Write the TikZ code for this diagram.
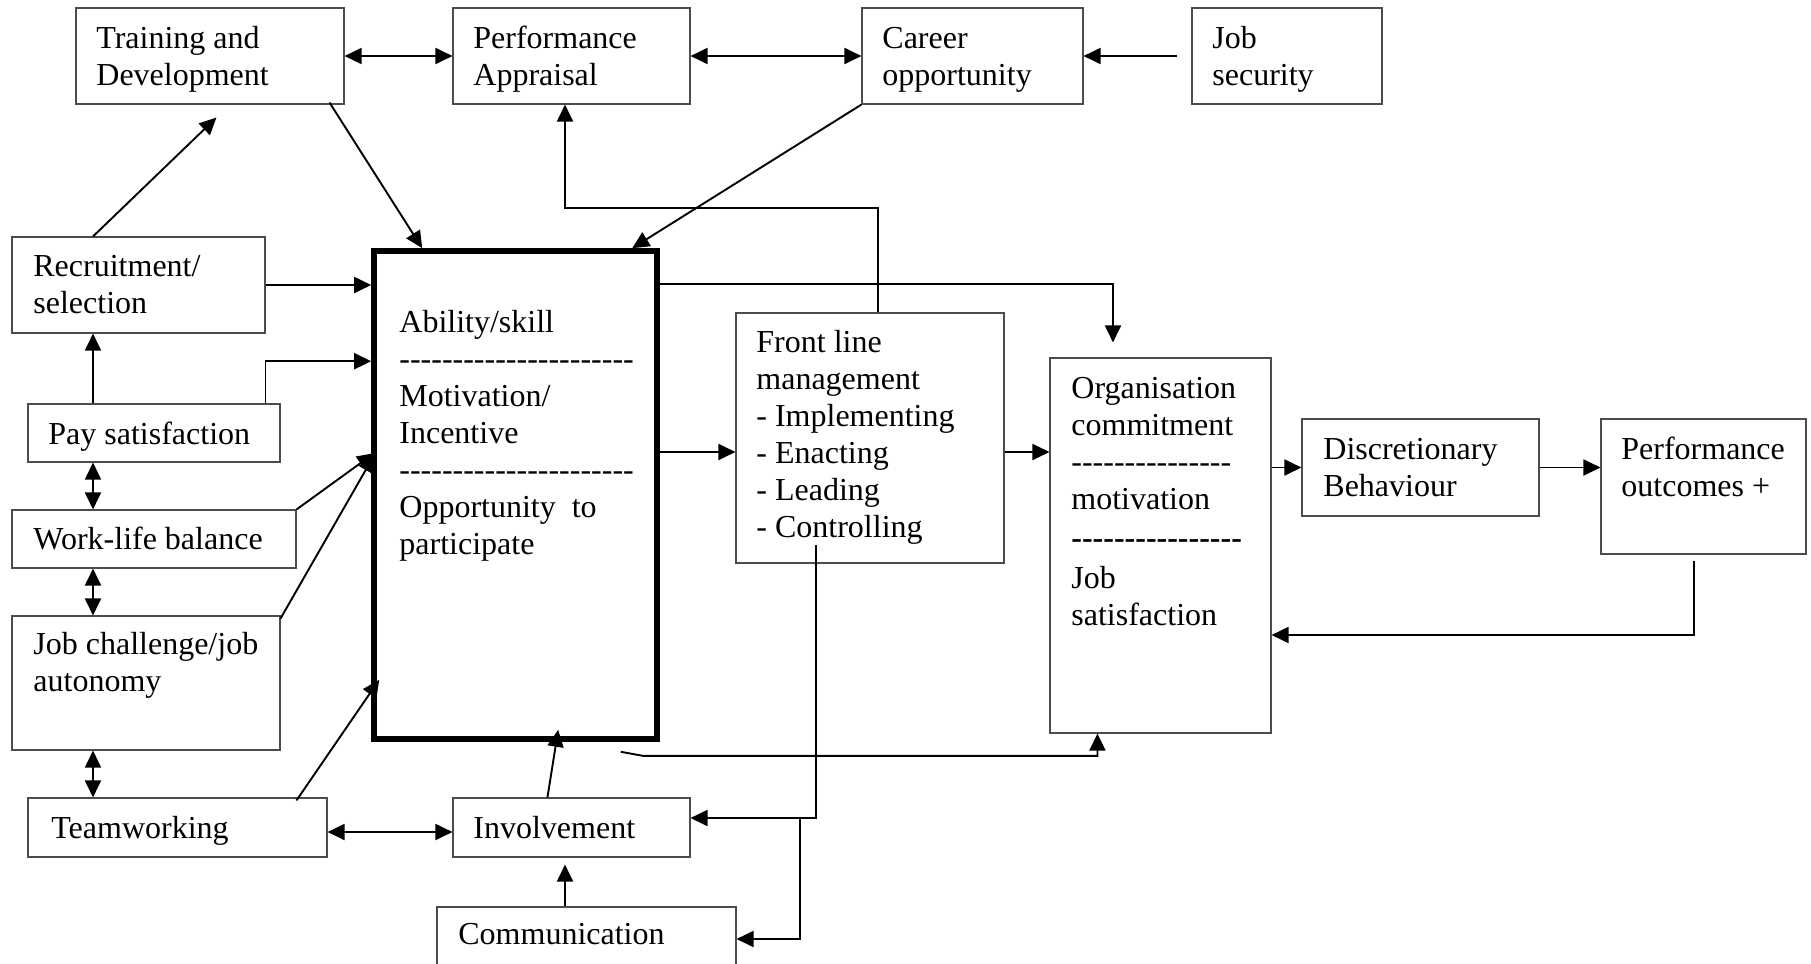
\documentclass[tikz,border=0pt]{standalone}
\usepackage{fontspec}
\setmainfont{Liberation Serif}[Ligatures=TeXOff]
\usetikzlibrary{arrows.meta,calc}
\begin{document}
\begin{tikzpicture}[x=0.5pt,y=-0.5pt,
  box/.style={draw=black!70, line width=0.55pt, inner sep=0pt, rectangle, anchor=center},
  mainbox/.style={draw=black, line width=2.8pt, inner sep=0pt, rectangle, anchor=center},
  txt/.style={anchor=north west, inner sep=0pt, align=left, font=\fontsize{16}{18.5}\selectfont},
  con/.style={line width=0.95pt, -{Triangle[length=8.5pt,width=8pt]}},
  dcon/.style={line width=0.95pt, {Triangle[length=8.5pt,width=8pt]}-{Triangle[length=8.5pt,width=8pt]}},
]
\useasboundingbox[fill=white] (0,0) rectangle (1811,964);

% boxes
\node[box, minimum width=134pt, minimum height=48pt] (tr) at (210,56) {};
\node[box, minimum width=118.5pt, minimum height=48pt] (pa) at (571.5,56) {};
\node[box, minimum width=110.5pt, minimum height=48pt] (co) at (972.5,56) {};
\node[box, minimum width=95pt, minimum height=48pt] (js) at (1287,56) {};
\node[box, minimum width=126.5pt, minimum height=48pt] (rs) at (138.5,285) {};
\node[box, minimum width=126pt, minimum height=29pt] (ps) at (154,433) {};
\node[box, minimum width=142pt, minimum height=29pt] (wl) at (154,539) {};
\node[box, minimum width=134pt, minimum height=67pt] (jc) at (146,683) {};
\node[box, minimum width=149.5pt, minimum height=29.5pt] (tw) at (177.5,827.5) {};
\node[box, minimum width=118.5pt, minimum height=29.5pt] (inv) at (571.5,827.5) {};
\node[box, minimum width=149.5pt, minimum height=34pt] (com) at (586.5,941) {};
\node[mainbox, minimum width=141.5pt, minimum height=244pt] (main) at (515.5,495) {};
\node[box, minimum width=134pt, minimum height=125pt] (fl) at (870,438) {};
\node[box, minimum width=110.5pt, minimum height=187.5pt] (oc) at (1160.5,545.5) {};
\node[box, minimum width=118.5pt, minimum height=48.5pt] (db) at (1420.5,467.5) {};
\node[box, minimum width=102.5pt, minimum height=67.5pt] (po) at (1703.5,486.5) {};

% texts
\node[txt] (ttr) at (96,48-25.9) {\strut Training and\\Development};
\node[txt] (tpa) at (473,48-25.9) {\strut Performance\\Appraisal};
\node[txt] (tco) at (882,48-25.9) {\strut Career\\opportunity};
\node[txt] (tjs) at (1212,48-25.9) {\strut Job\\security};
\node[txt] (trs) at (33,276-25.9) {\strut Recruitment/\\selection};
\node[txt] (tps) at (48,444-25.9) {\strut Pay satisfaction};
\node[txt] (twl) at (33,549-25.9) {\strut Work-life balance};
\node[txt] (tjc) at (33,654-25.9) {\strut Job challenge/job\\autonomy};
\node[txt] (ttw) at (51,838-25.9) {\strut Teamworking};
\node[txt] (tinv) at (473,838-25.9) {\strut Involvement};
\node[txt] (tcom) at (458,944-25.9) {\strut Communication};
\node[txt] (tmain) at (399,332-25.9) {\strut Ability/skill\\----------------------\\Motivation/\\Incentive\\----------------------\\Opportunity\hspace{8pt}to\\participate};
\node[txt] (tfl) at (756,352-25.9) {\strut Front line\\management\\- Implementing\\- Enacting\\- Leading\\- Controlling};
\node[txt] (toc) at (1071,398-25.9) {\strut Organisation\\commitment\\---------------\\motivation\\[1pt]\textbf{----------------}\\[1.5pt]Job\\satisfaction};
\node[txt] (tdb) at (1323,459-25.9) {\strut Discretionary\\Behaviour};
\node[txt] (tpo) at (1621,459-25.9) {\strut Performance\\outcomes +};

% helper coordinates
\coordinate (colA) at (93,0);
\coordinate (colB) at (565,0);
\coordinate (colC) at (878,0);
\coordinate (colD) at (816,0);
\coordinate (colE) at (800,0);
\coordinate (colF) at (1694,0);
\coordinate (colG) at (1113,0);
\coordinate (rowA) at (0,208);
\coordinate (rowB) at (0,818);
\coordinate (rowC) at (0,939);
\coordinate (rowD) at (0,635);
\coordinate (rowE) at (0,452);
\coordinate (rowF) at (0,284);
\coordinate (rowG) at (0,832);

% top row
\draw[dcon] (tr.east) -- (pa.west);
\draw[dcon] (pa.east) -- (co.west);
\draw[con, shorten <=7pt] (js.west) -- (co.east);

% left column
\draw[con] (rs.north -| colA) -- ($(tr.south west)+(141,13)$);
\draw[con] ($(tr.south east)+(-15,-2)$) -- ($(main.north west)+(51,0)$);
\draw[con] (co.south west) -- ($(main.north west)+(261,0)$);
\draw[con] (rs.east) -- (main.west |- rs.east);
\draw[con] ($(ps.north west)+(238,0)$) |- ($(main.north west)+(0,113)$);
\draw[con] (ps.north -| colA) -- (rs.south -| colA);
\draw[dcon] (ps.south -| colA) -- (wl.north -| colA);
\draw[dcon] (wl.south -| colA) -- (jc.north -| colA);
\draw[dcon] (jc.south -| colA) -- (tw.north -| colA);
\draw[con] (wl.north east) -- ($(main.north west)+(3,205)$);
\draw[con] ($(jc.north east)+(0,3)$) -- ($(main.north west)+(3,207)$);
\draw[con] ($(tw.north west)+(269,3)$) -- ($(main.south west)+(8,-62)$);
\draw[dcon] (tw.east |- rowG) -- (inv.west |- rowG);
\draw[con] ($(inv.north west)+(95,0)$) -- ($(main.south west)+(187,-12)$);
\draw[con] (com.north -| colB) -- ($(inv.south -| colB)+(0,7)$);

% front line management
\draw[con] (fl.north -| colC) |- (rowA -| colB) -- (pa.south -| colB);
\draw[con] (main.east |- rowE) -- (fl.west |- rowE);
\draw[con] (fl.east |- rowE) -- (oc.west |- rowE);
\draw[con] ($(fl.south -| colD)+(0,-19)$) |- (inv.east |- rowB);
\draw[con] (rowB -| colE) |- (com.east |- rowC);

% organisation commitment
\draw[con] (main.east |- rowF) -| ($(oc.north -| colG)+(0,-15)$);
\draw[con] ($(main.south east)+(-39,10)$) -- ++(22,4) -| ($(oc.south west)+(48,0)$);
\draw[con] (oc.east |- db.west) -- (db.west);
\draw[con] (db.east) -- (po.west |- db.east);
\draw[con] ($(po.south -| colF)+(0,6)$) |- (oc.east |- rowD);
\end{tikzpicture}
\end{document}
